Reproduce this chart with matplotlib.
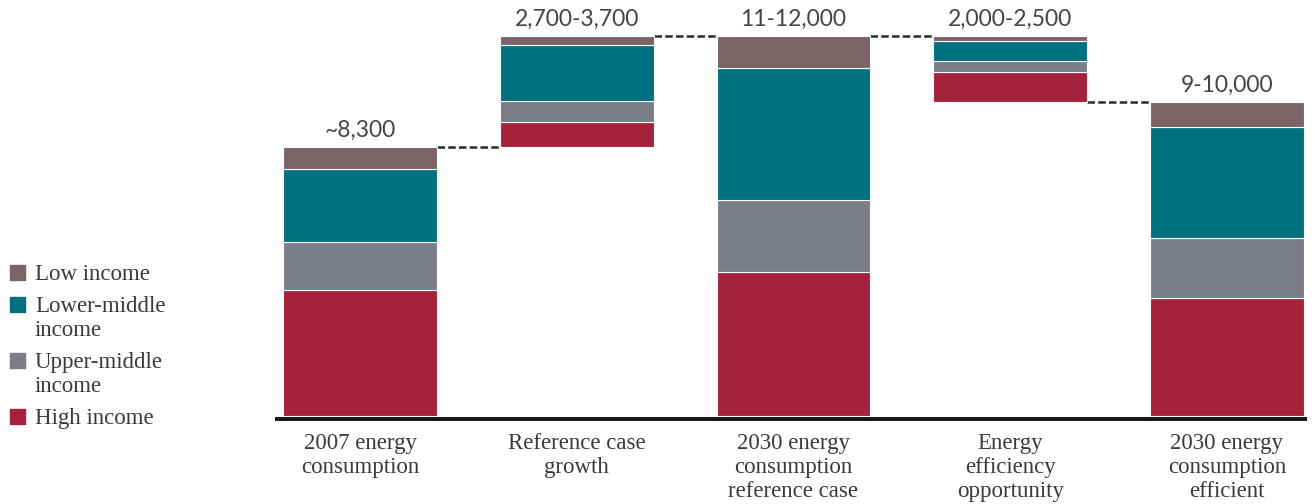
import matplotlib
matplotlib.use("Agg")
import matplotlib.pyplot as plt
from matplotlib.patches import Rectangle
import numpy as np

categories = ["2007 energy\nconsumption", "Reference case\ngrowth",
              "2030 energy\nconsumption\nreference case", "Energy\nefficiency\nopportunity",
              "2030 energy\nconsumption\nefficient"]
value_labels = ["~8,300", "2,700-3,700", "11-12,000", "2,000-2,500", "9-10,000"]
series_names = ["High income", "Upper-middle\nincome", "Lower-middle\nincome", "Low income"]
high_income = [3880, 750, 4440, 940, 3650]
upper_middle = [1480, 660, 2220, 340, 1840]
lower_middle = [2250, 1730, 4070, 620, 3410]
low_income = [690, 280, 990, 160, 760]
# bar kind: total, increase, total, decrease, total
bar_kind = ["total", "up", "total", "down", "total"]

colors = ["#A6213A", "#7A7D88", "#00717E", "#7B6466"]

series = np.array([high_income, upper_middle, lower_middle, low_income], dtype=float)
totals = series.sum(axis=0)

# compute floating bases
bases = []
running = 0.0
for i, k in enumerate(bar_kind):
    if k == "total":
        bases.append(0.0)
        running = totals[i]
    elif k == "up":
        bases.append(running)
        running = running + totals[i]
    else:
        running = running - totals[i]
        bases.append(running)
bases = np.array(bases)
tops = bases + totals

W, H = 1313, 504
fig = plt.figure(figsize=(W / 100, H / 100), dpi=100)
left_px, right_px = 277, 1305
bottom_px, top_px = 419, 7
ax = fig.add_axes([left_px / W, 1 - bottom_px / H, (right_px - left_px) / W, (bottom_px - top_px) / H])

x = np.arange(len(categories))
width = 0.71
ax.set_xlim(-0.383, 4.36)
ax.set_ylim(-92, 12600)

for i in range(len(categories)):
    b = bases[i]
    for s in range(series.shape[0]):
        ax.bar(x[i], series[s, i], width=width, bottom=b, color=colors[s],
               edgecolor="white", linewidth=0.8, zorder=2)
        b += series[s, i]
    ax.text(x[i], tops[i] + 190, value_labels[i], ha="center", va="bottom",
            fontsize=16.5, color="#444444", family="Lato", fontweight="normal")

# connectors
conn_levels = [totals[0], tops[1], tops[2], bases[3]]
for i, lvl in enumerate(conn_levels):
    ax.plot([x[i] + width / 2, x[i + 1] - width / 2], [lvl, lvl], color="#2a2a2a",
            linewidth=1.8, dashes=(3, 1.3), zorder=1, solid_capstyle="butt")

for side in ["top", "right", "left"]:
    ax.spines[side].set_visible(False)
ax.spines["bottom"].set_linewidth(2.9)
ax.spines["bottom"].set_color("#1a1a1a")
ax.set_yticks([])
ax.set_xticks(x)
ax.set_xticklabels(categories, fontsize=16.5, color="#3a3a3a", family="Liberation Serif",
                   linespacing=1.18)
ax.tick_params(axis="x", length=0, pad=10)

# legend (manual)
legend_items = [("Low income", colors[3], 272), ("Lower-middle\nincome", colors[2], 304),
                ("Upper-middle\nincome", colors[1], 360), ("High income", colors[0], 416)]
for label, c, ypx in legend_items:
    fig.patches.append(Rectangle((10 / W, 1 - (ypx + 7.5) / H), 15 / W, 15 / H,
                                 transform=fig.transFigure, color=c, figure=fig))
    for k, line in enumerate(label.split("\n")):
        fig.text(35 / W, 1 - (ypx + 8 + 24 * k) / H, line, ha="left", va="baseline",
                 fontsize=16.5, color="#3a3a3a", family="Liberation Serif")

fig.savefig("out.png", dpi=100, facecolor="white")
